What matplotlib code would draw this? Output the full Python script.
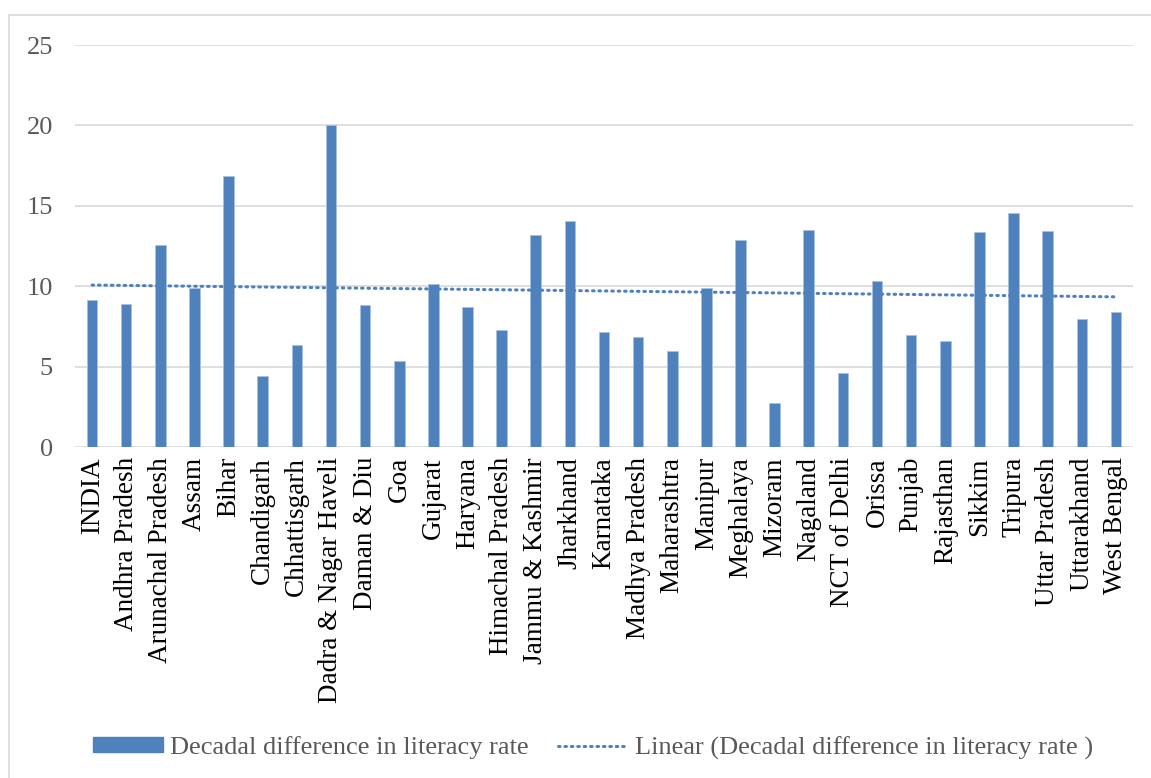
import numpy as np
import matplotlib
matplotlib.use("Agg")
import matplotlib.pyplot as plt
from matplotlib.patches import Rectangle
from matplotlib.lines import Line2D

states = [
    "INDIA", "Andhra Pradesh", "Arunachal Pradesh", "Assam", "Bihar",
    "Chandigarh", "Chhattisgarh", "Dadra & Nagar Haveli", "Daman & Diu", "Goa",
    "Gujarat", "Haryana", "Himachal Pradesh", "Jammu & Kashmir", "Jharkhand",
    "Karnataka", "Madhya Pradesh", "Maharashtra", "Manipur", "Meghalaya",
    "Mizoram", "Nagaland", "NCT of Delhi", "Orissa", "Punjab",
    "Rajasthan", "Sikkim", "Tripura", "Uttar Pradesh", "Uttarakhand",
    "West Bengal",
]
decadal_diff = [
    9.17, 8.92, 12.59, 9.91, 16.84,
    4.44, 6.35, 20.02, 8.86, 5.35,
    10.14, 8.71, 7.28, 13.19, 14.06,
    7.16, 6.85, 5.99, 9.91, 12.90,
    2.74, 13.50, 4.62, 10.35, 6.99,
    6.61, 13.40, 14.56, 13.44, 7.96,
    8.40,
]
y_ticks = [0, 5, 10, 15, 20, 25]

BAR = "#4F81BD"
GRID = "#D9D9D9"
TEXT = "#595959"
FONT = "Liberation Serif"
FS = 19

plt.rcParams["font.family"] = FONT

fig = plt.figure(figsize=(11.51, 7.78), dpi=100)
W, H = 1151, 778

# chart area border
fig.patches.append(Rectangle((9 / W, -0.01), 1.2, (H - 15) / H + 0.01,
                             transform=fig.transFigure, fill=False,
                             edgecolor=GRID, lw=1.2))

ax = fig.add_axes([75 / W, (H - 447.3) / H, 1058 / W, 402.3 / H])

x = np.arange(len(states))
vals = np.array(decadal_diff)
ax.bar(x, vals, width=0.31, color=BAR, edgecolor="#A9C1E0", linewidth=0.6, zorder=3)

# linear trend over category index
slope, intercept = np.polyfit(x, vals, 1)
ax.plot(x, slope * x + intercept, color=BAR, lw=2.2, linestyle=(0, (0.5, 1.6)),
        dash_capstyle="round", zorder=4)

ax.set_xlim(-0.5, len(states) - 0.5)
ax.set_ylim(0, 25)
ax.set_yticks(y_ticks)
ax.yaxis.grid(True, color=GRID, lw=1.2)
ax.set_axisbelow(True)
for s in ax.spines.values():
    s.set_visible(False)

ax.set_xticks(x)
ax.set_xticklabels(states, rotation=90, fontsize=19.5, color="black")
ax.tick_params(axis="x", length=0, pad=7)
ax.tick_params(axis="y", length=0, pad=16, labelsize=FS, labelcolor=TEXT)

handles = [
    Rectangle((0, 0), 1, 1, facecolor=BAR, edgecolor=BAR),
    Line2D([0], [0], color=BAR, lw=2.2, linestyle=(0, (0.5, 1.6)), dash_capstyle="round"),
]
labels = ["Decadal difference in literacy rate",
          "Linear (Decadal difference in literacy rate )"]
fig.legend(handles, labels, loc="center", bbox_to_anchor=(593 / W, 30 / H), ncol=2,
           frameon=False, fontsize=FS, labelcolor=TEXT, handlelength=2.65,
           handleheight=0.5, handletextpad=0.27, columnspacing=1.1)

fig.savefig("out.png", dpi=100)
